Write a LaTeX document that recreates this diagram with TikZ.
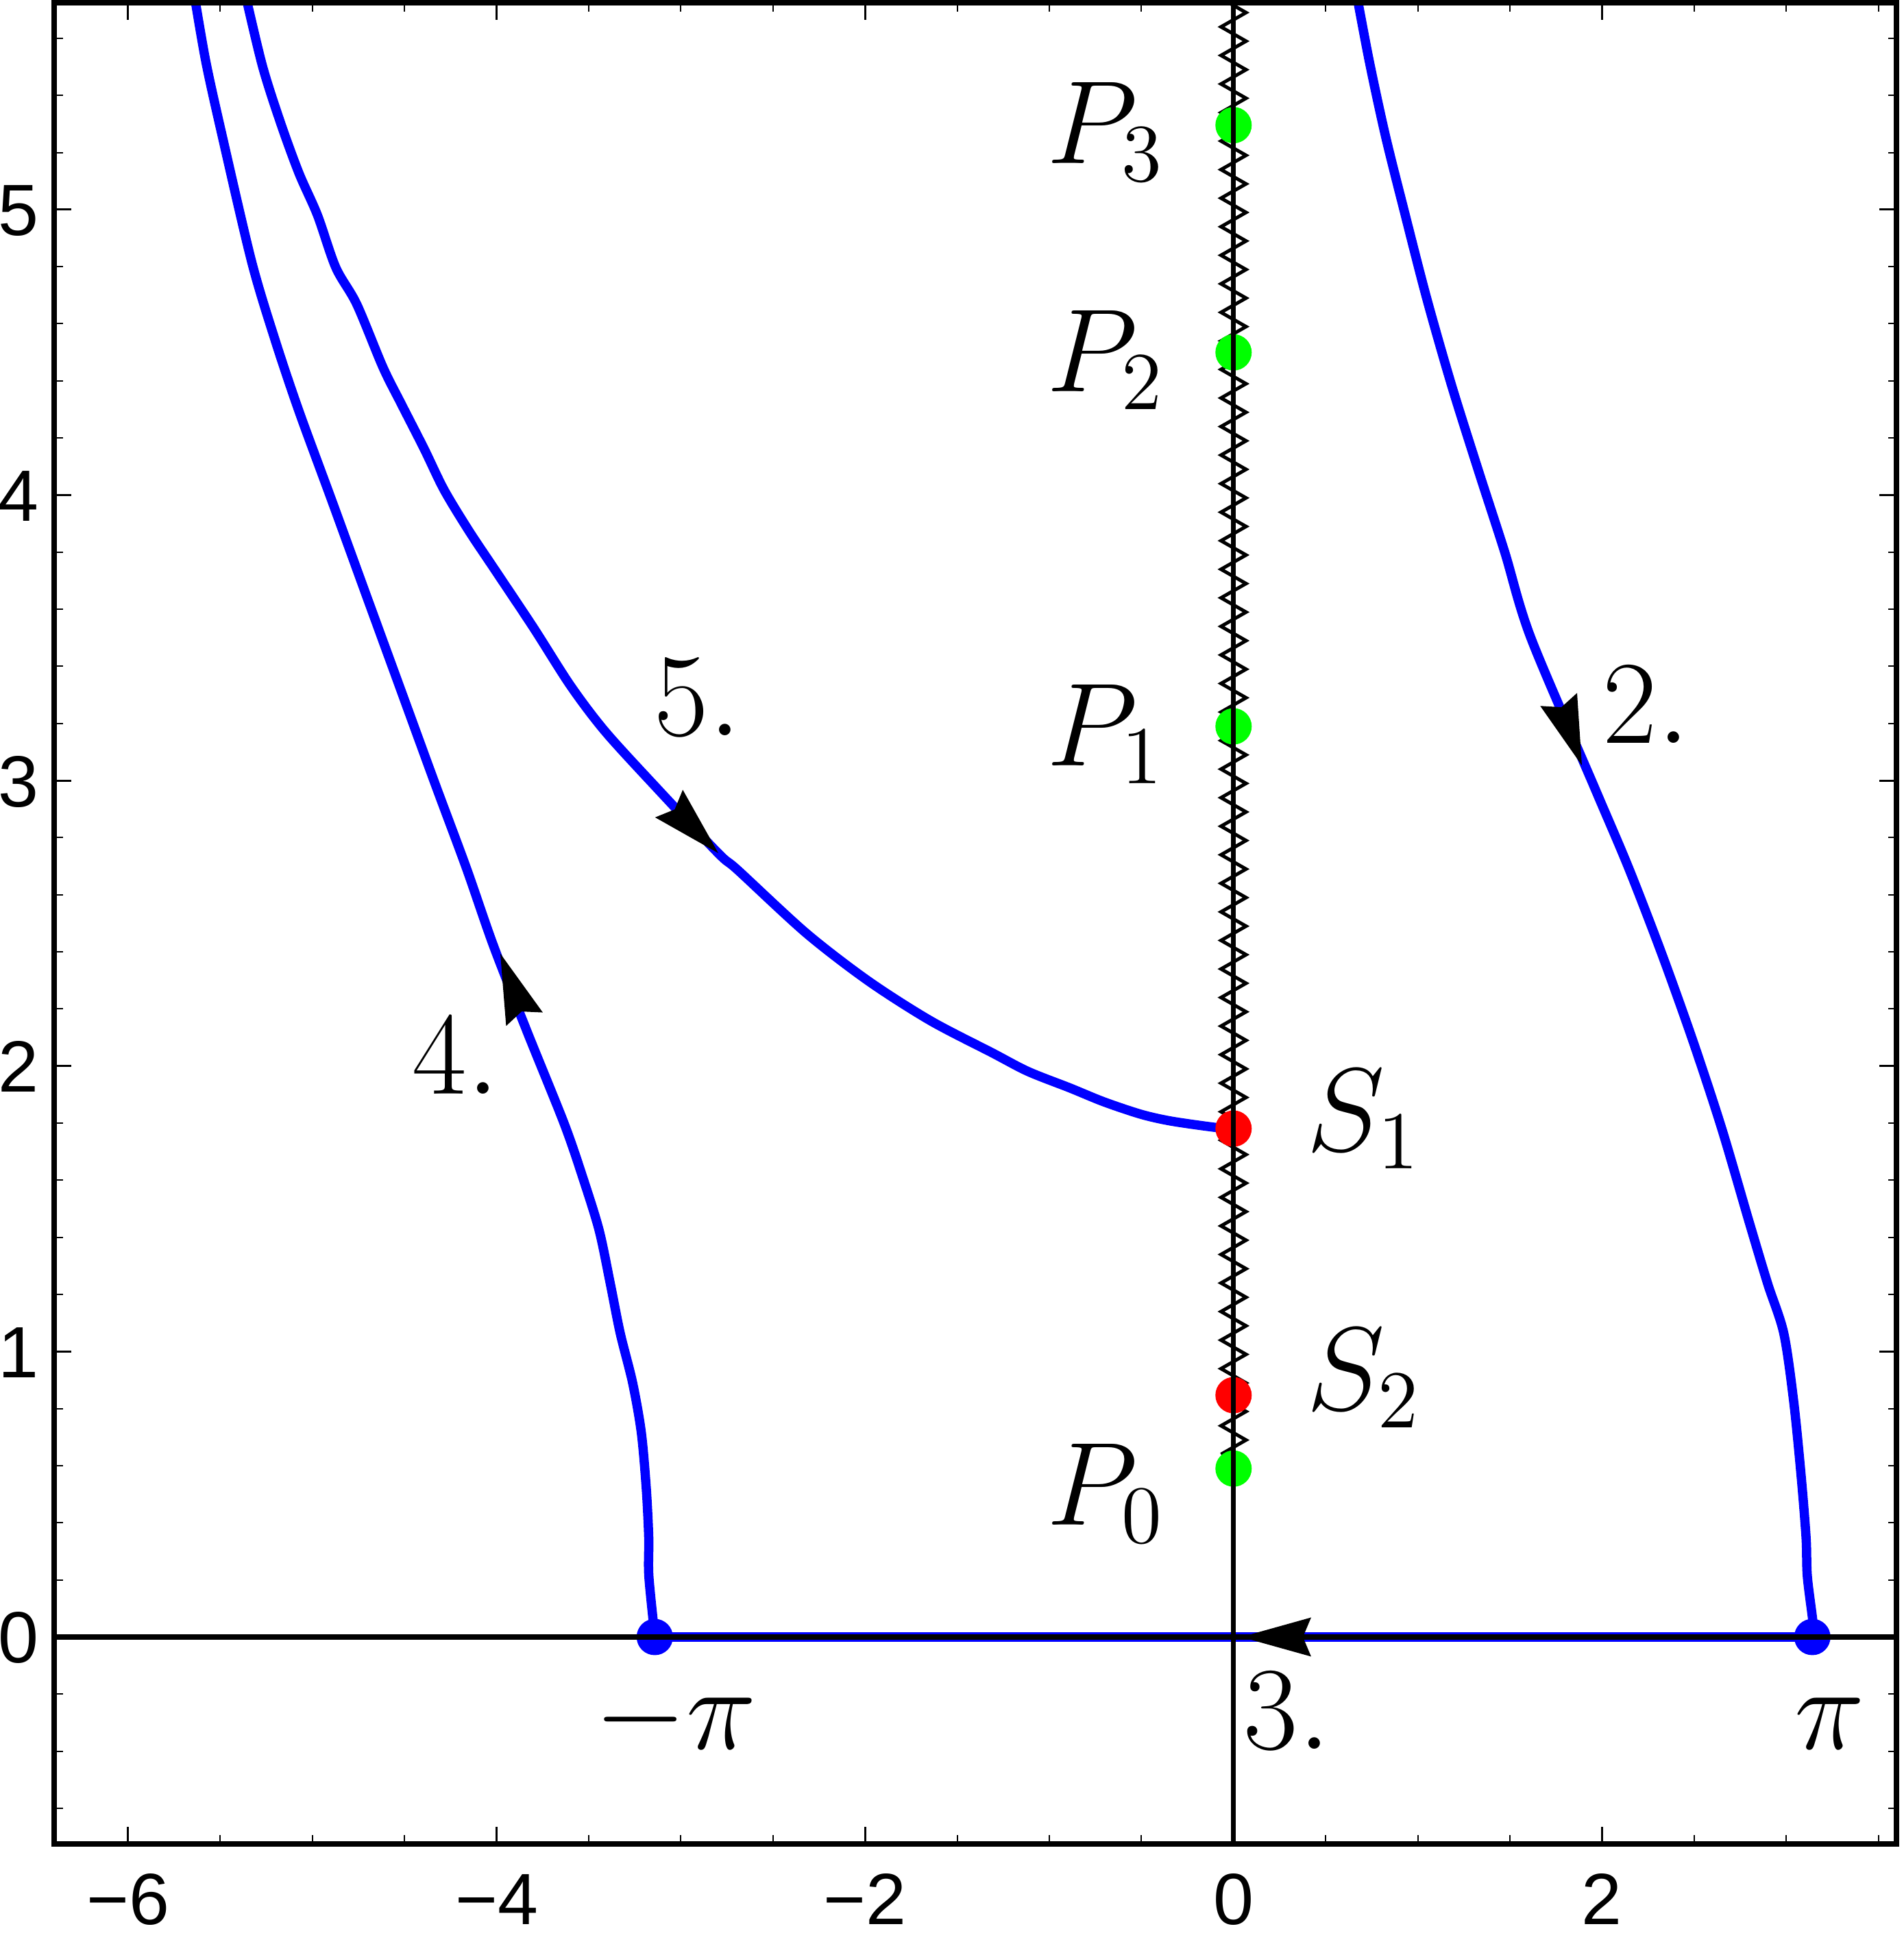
\documentclass[tikz,border=0pt]{standalone}
\usepackage{fontspec}
\newfontfamily\tickfont{Liberation Sans}
\usetikzlibrary{arrows.meta}
\definecolor{mblue}{rgb}{0,0,1}
\definecolor{mred}{rgb}{1,0,0}
\definecolor{mgreen}{rgb}{0,1,0}
\begin{document}
\begin{tikzpicture}[x=26.88pt,y=41.66pt,
  curve/.style={draw=mblue, line width=1.35pt, line join=round, line cap=round},
  axisline/.style={draw=black, line width=0.72pt},
  zig/.style={draw=black, line width=0.5pt, line join=miter},
  framebox/.style={draw=black, line width=0.8pt},
  tickmaj/.style={draw=black, line width=0.3pt},
  tickmin/.style={draw=black, line width=0.2pt},
  ticklab/.style={font=\tickfont\fontsize{10.6}{12}\selectfont, inner sep=0pt},
  mlab/.style={font=\LARGE, inner sep=0pt, anchor=base west},
  mahead/.pic={\fill[black] (0,0) -- (-10.2pt,2.85pt) -- (-9pt,0pt) -- (-10.2pt,-2.85pt) -- cycle;}
]
\useasboundingbox (-179.98pt,-44.8pt) rectangle (97.82pt,238.9pt);
\fill[white] (-179.98pt,-44.8pt) rectangle (97.82pt,238.9pt);

\begin{scope}
\clip (-6.4,-0.725) rectangle (3.6,5.725);
% traced curves in reference (shrunk) pixel coordinates
\begin{scope}[shift={(-179.98pt,238.9pt)}, x=0.18098pt, y=-0.18098pt]
% branch 2 (right)
\draw[curve] plot[smooth, tension=0.5] coordinates {(1093,-8) (1104,50) (1117,110) (1132,170) (1150,240) (1170,310) (1192,380) (1213,445) (1234,514) (1285.6,635.4) (1313,700) (1340,770) (1365,840) (1388,910) (1410,985) (1425,1035) (1438,1075) (1446,1130) (1452,1190) (1456,1240) (1457,1271) (1461.5,1307.7) (1462,1320)};
% branch 4 (left)
\draw[curve] plot[smooth, tension=0.5] coordinates {(156,-8) (166,50) (179.7,112) (203,211.5) (222,274.9) (241,331.5) (268,405) (296,482) (323,556) (350,630) (376,700) (397.8,762.5) (425,832) (454.9,906.2) (470,950) (483,992) (492,1035) (500,1075) (510,1115) (517,1155) (521,1200) (523,1240) (523.1,1271) (528,1320)};
% branch 5
\draw[curve] plot[smooth, tension=0.5] coordinates {(197,-8) (211.5,52.9) (226.3,99.4) (241,139.6) (255.9,173.4) (270.7,215.7) (287.6,245.3) (308.7,296.1) (323.5,325.7) (342,362) (358,395) (378,428) (398,458) (430,506) (460,553) (488,590) (530,636) (579,688) (594.9,701.7) (650,752.5) (700,791) (750,823) (800,849) (828.8,864) (862.6,877.3) (890,888.5) (919.8,898.5) (944.1,904) (979,909) (993,910)};
\end{scope}
% branch 3 on the real axis
\draw[curve, line cap=butt] (-3.14159,0) -- (3.14159,0);
% branch cut zigzag
\draw[zig] (-0.068,0.64) \foreach \k in {0,...,51} { -- ({0.068},{0.69+0.1*\k}) -- ({-0.068},{0.74+0.1*\k}) };
\end{scope}

% points
\fill[mblue] (-3.14159,0) circle (2.65pt);
\fill[mblue] (3.14159,0) circle (2.65pt);
\fill[mred] (0,1.781) circle (2.65pt);
\fill[mred] (0,0.847) circle (2.65pt);
\fill[mgreen] (0,0.59) circle (2.65pt);
\fill[mgreen] (0,3.19) circle (2.65pt);
\fill[mgreen] (0,4.50) circle (2.65pt);
\fill[mgreen] (0,5.296) circle (2.65pt);

% axes
\draw[axisline] (-6.4,0) -- (3.6,0);
\draw[axisline] (0,-0.725) -- (0,5.725);

% arrowheads
\pic[rotate=-45.1] at (-75.18pt,114.4pt) {mahead};
\pic[rotate=-70.6] at (50.82pt,127.2pt) {mahead};
\pic[rotate=110.2] at (-106.98pt,99.73pt) {mahead};
\pic[rotate=180] at (1.12pt,0pt) {mahead};

% frame and ticks
\foreach \xv in {-6,-5.5,...,3.5} {
  \draw[tickmin] (\xv,-0.725) -- ++(0,1.3pt);
  \draw[tickmin] (\xv,5.725) -- ++(0,-1.3pt);
}
\foreach \xv in {-6,-4,-2,0,2} {
  \draw[tickmaj] (\xv,-0.725) -- ++(0,2.5pt);
  \draw[tickmaj] (\xv,5.725) -- ++(0,-2.5pt);
}
\foreach \yv in {-0.6,-0.4,...,5.65} {
  \draw[tickmin] (-6.4,\yv) -- ++(1.25pt,0);
  \draw[tickmin] (3.6,\yv) -- ++(-1.25pt,0);
}
\foreach \yv in {0,...,5} {
  \draw[tickmaj] (-6.4,\yv) -- ++(2.5pt,0);
  \draw[tickmaj] (3.6,\yv) -- ++(-2.5pt,0);
}
\draw[framebox] (-6.4,-0.725) rectangle (3.6,5.725);

% tick labels
\foreach \yv in {0,...,5} {
  \node[ticklab, anchor=base east] (yl\yv) at ([yshift=-3.8pt]-6.48,\yv) {\yv};
}
\foreach \xv/\xl/\nm in {-6/−6/a,-4/−4/b,-2/−2/c,0/0/d,2/2/e} {
  \node[ticklab, anchor=base] (xl\nm) at ([yshift=-41.9pt]\xv,0) {\xl};
}

% labels
\node[mlab] (P3) at (-27.4pt,215.0pt) {$P_3$};
\node[mlab] (P2) at (-27.4pt,181.7pt) {$P_2$};
\node[mlab] (P1) at (-27.4pt,127.1pt) {$P_1$};
\node[mlab] (P0) at (-27.4pt,16.3pt) {$P_0$};
\node[mlab] (S1) at (10.5pt,70.9pt) {$S_1$};
\node[mlab] (S2) at (10.5pt,33.1pt) {$S_2$};
\node[mlab] (l2) at (53.7pt,130.4pt) {$2.$};
\node[mlab] (l4) at (-120.0pt,79.2pt) {$4.$};
\node[mlab] (l5) at (-84.7pt,131.5pt) {$5.$};
\node[mlab] (l3) at (1.3pt,-16.4pt) {$3.$};
\node[font=\LARGE, inner sep=0pt, anchor=base] (mpi) at (-81.43pt,-16.4pt) {$-\pi$};
\node[font=\LARGE, inner sep=0pt, anchor=base] (ppi) at (87.02pt,-16.4pt) {$\pi$};
\end{tikzpicture}
\end{document}
